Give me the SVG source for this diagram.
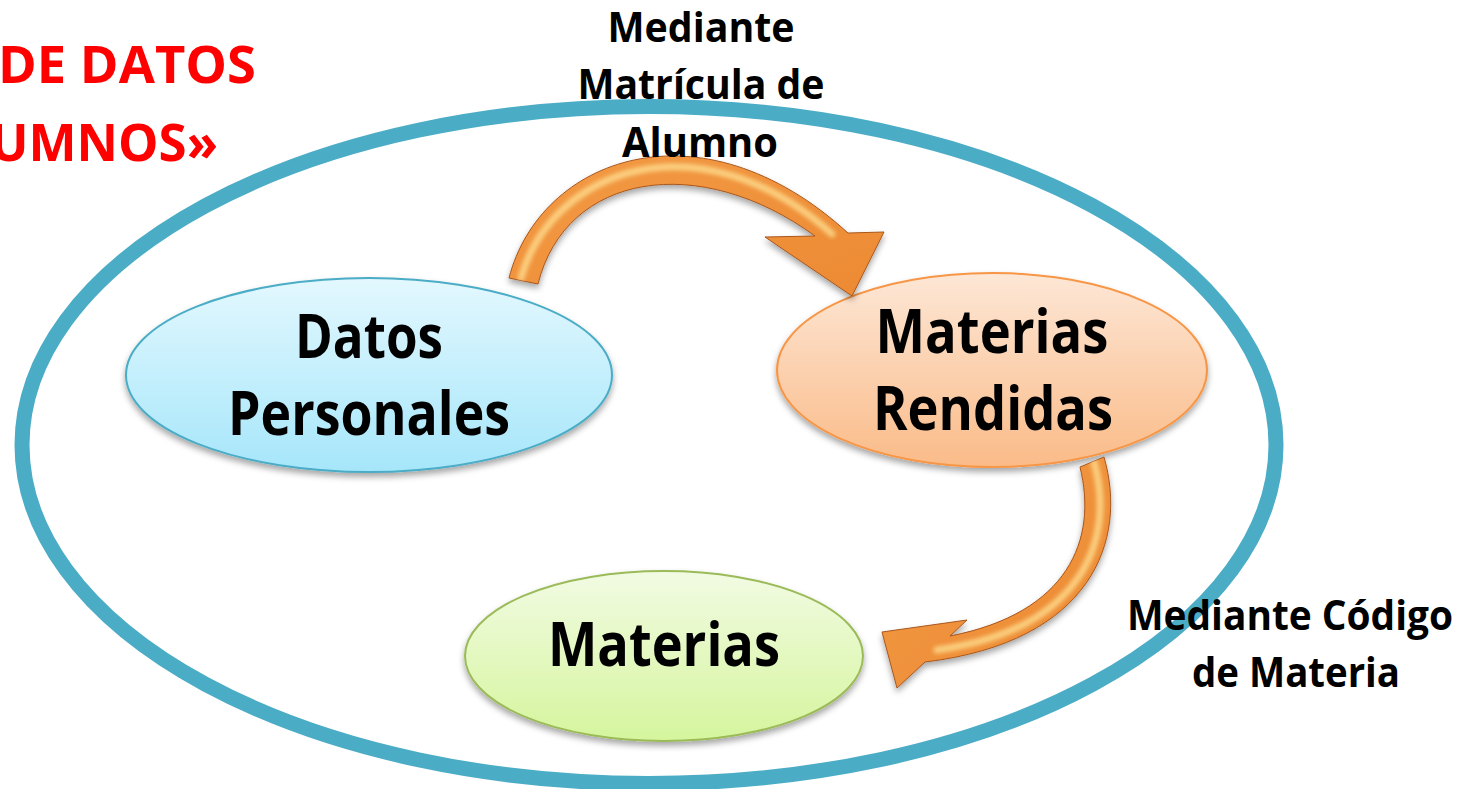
<svg xmlns="http://www.w3.org/2000/svg" width="1483" height="789" viewBox="0 0 1483 789">
  <defs>
    <style>
      .lbl { font-family: "Open Sans", "Liberation Sans", sans-serif; font-weight: 700; fill: #000; }
      .node-txt { font-size: 61px; }
      .edge-txt { font-size: 41px; }
      .title { font-family: "Open Sans", "Liberation Sans", sans-serif; font-weight: 700; fill: #FF0000; font-size: 52px; }
      .arrow { stroke: #A9561A; stroke-width: 1; stroke-linejoin: round; }
      .hl { fill: none; stroke: #FDD98A; stroke-width: 7; stroke-linecap: round; opacity: 0.85; }
    </style>
    <linearGradient id="gBlue" x1="0" y1="0" x2="0" y2="1">
      <stop offset="0" stop-color="#E3F8FE"/>
      <stop offset="1" stop-color="#A6E6FA"/>
    </linearGradient>
    <linearGradient id="gOrange" x1="0" y1="0" x2="0" y2="1">
      <stop offset="0" stop-color="#FDE7D6"/>
      <stop offset="1" stop-color="#FABB88"/>
    </linearGradient>
    <linearGradient id="gGreen" x1="0" y1="0" x2="0" y2="1">
      <stop offset="0" stop-color="#F2FBE3"/>
      <stop offset="1" stop-color="#D5F59D"/>
    </linearGradient>
    <linearGradient id="gArrow" x1="0" y1="0" x2="1" y2="1">
      <stop offset="0" stop-color="#F39A45"/>
      <stop offset="1" stop-color="#EC8A33"/>
    </linearGradient>
    <filter id="shadow" x="-10%" y="-10%" width="120%" height="130%">
      <feDropShadow dx="0" dy="4" stdDeviation="3" flood-color="#000" flood-opacity="0.35"/>
    </filter>
    <filter id="blur" x="-10%" y="-10%" width="120%" height="120%">
      <feGaussianBlur stdDeviation="2"/>
    </filter>
    <clipPath id="clipA1">
      <path d="M538,284 L509,278 C540,158 700,98 848,233 L884,232 L852,296 L765,237 L815,236 C700,152 566,172 538,284 Z"/>
    </clipPath>
    <clipPath id="clipA2">
      <path d="M1080,467 L1104,457 C1128,540 1092,642 925,662 L897,688 L882,632 L967,620 L950,636 C1068,613 1098,540 1080,467 Z"/>
    </clipPath>
  </defs>

  <rect width="1483" height="789" fill="#FFFFFF"/>

  <g id="container">
    <ellipse cx="649" cy="445" rx="627" ry="338.5" fill="none" stroke="#4BACC6" stroke-width="15"/>
  </g>

  <g id="title">
    <text class="title" x="256" y="83" text-anchor="end" textLength="258" lengthAdjust="spacingAndGlyphs">DE DATOS</text>
    <text class="title" x="218" y="161" text-anchor="end" textLength="228" lengthAdjust="spacingAndGlyphs">UMNOS»</text>
  </g>

  <g id="node-datos-personales">
    <ellipse cx="369" cy="375" rx="243" ry="97" fill="url(#gBlue)" stroke="#4BACC6" stroke-width="2" filter="url(#shadow)"/>
    <text class="lbl node-txt" x="369" y="358" text-anchor="middle" textLength="148" lengthAdjust="spacingAndGlyphs">Datos</text>
    <text class="lbl node-txt" x="369" y="435" text-anchor="middle" textLength="282" lengthAdjust="spacingAndGlyphs">Personales</text>
  </g>

  <g id="node-materias-rendidas">
    <ellipse cx="992" cy="370" rx="215" ry="97" fill="url(#gOrange)" stroke="#F79646" stroke-width="2" filter="url(#shadow)"/>
    <text class="lbl node-txt" x="992" y="353" text-anchor="middle" textLength="233" lengthAdjust="spacingAndGlyphs">Materias</text>
    <text class="lbl node-txt" x="993" y="430" text-anchor="middle" textLength="240" lengthAdjust="spacingAndGlyphs">Rendidas</text>
  </g>

  <g id="node-materias">
    <ellipse cx="664" cy="656" rx="199" ry="85" fill="url(#gGreen)" stroke="#9BBB59" stroke-width="2" filter="url(#shadow)"/>
    <text class="lbl node-txt" x="664" y="666" text-anchor="middle" textLength="232" lengthAdjust="spacingAndGlyphs">Materias</text>
  </g>

  <g id="connectors">
    <g id="arrow-datos-to-rendidas" filter="url(#shadow)">
      <path class="arrow" fill="url(#gArrow)" d="M538,284 L509,278 C540,158 700,98 848,233 L884,232 L852,296 L765,237 L815,236 C700,152 566,172 538,284 Z"/>
      <g clip-path="url(#clipA1)">
        <path class="hl" filter="url(#blur)" d="M521,278 C552,168 700,116 832,234"/>
      </g>
    </g>
    <g id="arrow-rendidas-to-materias" filter="url(#shadow)">
      <path class="arrow" fill="url(#gArrow)" d="M1080,467 L1104,457 C1128,540 1092,642 925,662 L897,688 L882,632 L967,620 L950,636 C1068,613 1098,540 1080,467 Z"/>
      <g clip-path="url(#clipA2)">
        <path class="hl" filter="url(#blur)" d="M1094,462 C1116,540 1082,630 937,650"/>
      </g>
    </g>
  </g>

  <g id="label-top">
    <text class="lbl edge-txt" x="701" y="42" text-anchor="middle" textLength="187" lengthAdjust="spacingAndGlyphs">Mediante</text>
    <text class="lbl edge-txt" x="701" y="99" text-anchor="middle" textLength="247" lengthAdjust="spacingAndGlyphs">Matrícula de</text>
    <text class="lbl edge-txt" x="700" y="157" text-anchor="middle" textLength="156" lengthAdjust="spacingAndGlyphs">Alumno</text>
  </g>

  <g id="label-right">
    <text class="lbl edge-txt" x="1290" y="630" text-anchor="middle" textLength="326" lengthAdjust="spacingAndGlyphs">Mediante Código</text>
    <text class="lbl edge-txt" x="1296" y="687" text-anchor="middle" textLength="208" lengthAdjust="spacingAndGlyphs">de Materia</text>
  </g>
</svg>
